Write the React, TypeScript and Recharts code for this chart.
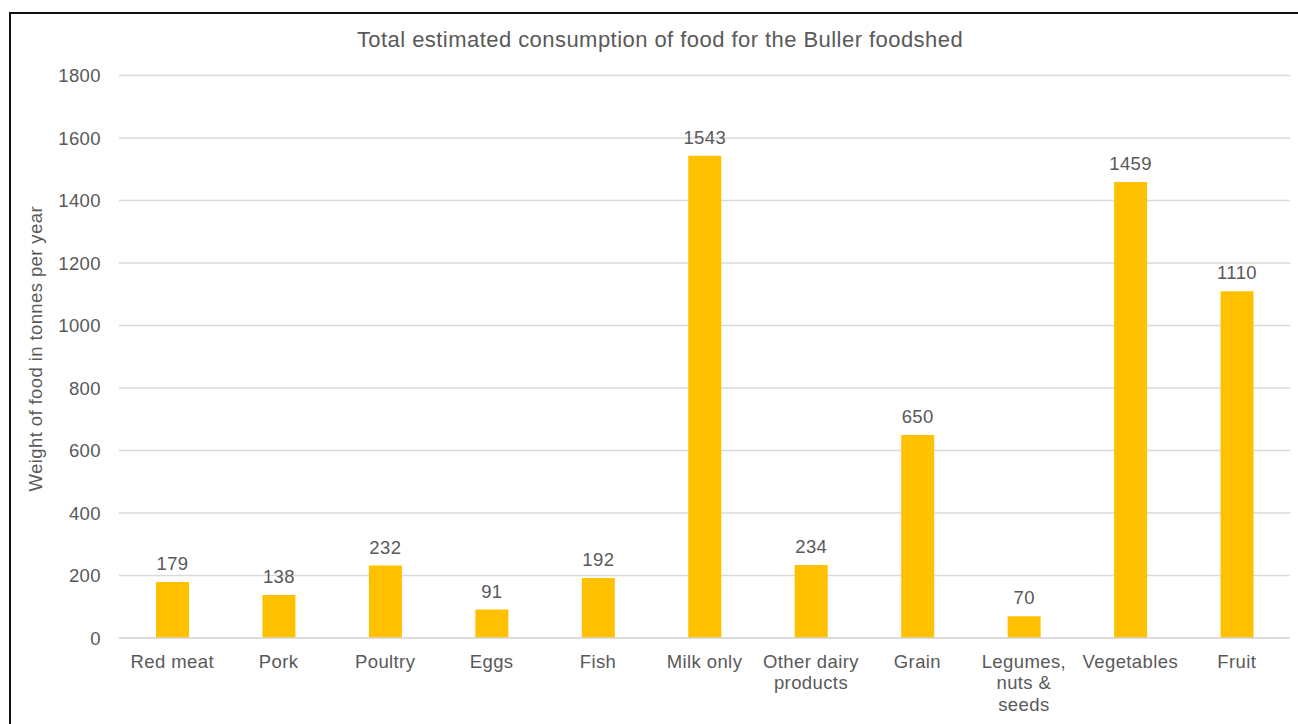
import React from 'react';
import { BarChart, Bar, XAxis, YAxis, CartesianGrid, LabelList } from 'recharts';

// Food groups (multi-line names use "\n")
const categories = [
  'Red meat',
  'Pork',
  'Poultry',
  'Eggs',
  'Fish',
  'Milk only',
  'Other dairy\nproducts',
  'Grain',
  'Legumes,\nnuts &\nseeds',
  'Vegetables',
  'Fruit',
];

// Weight of food in tonnes per year
const tonnes = [179, 138, 232, 91, 192, 1543, 234, 650, 70, 1459, 1110];

const yTicks = [0, 200, 400, 600, 800, 1000, 1200, 1400, 1600, 1800];

const data = categories.map((name, i) => ({ name, value: tonnes[i] }));

const FONT = '"Liberation Sans", Arial, sans-serif';
const TEXT = '#595959';
const FS = 18.5;
const LS = 0.4;

const CategoryTick = (props: any) => {
  const { x, y, payload } = props;
  const lines = String(payload.value).split('\n');
  return (
    <g transform={`translate(${x},${y})`}>
      <text textAnchor="middle" fill={TEXT} fontSize={FS} fontFamily={FONT} letterSpacing={LS}>
        {lines.map((ln: string, i: number) => (
          <tspan key={i} x={0} y={21.7 + i * 21.7}>
            {ln}
          </tspan>
        ))}
      </text>
    </g>
  );
};

const YTitle = (props: any) => {
  const vb = props.viewBox || { x: 0, y: 0, width: 0, height: 0 };
  const cx = vb.x + 42;
  const cy = vb.y + vb.height / 2 - 8;
  return (
    <text
      x={cx}
      y={cy}
      transform={`rotate(-90, ${cx}, ${cy})`}
      textAnchor="middle"
      fill={TEXT}
      fontSize={FS}
      fontFamily={FONT}
      letterSpacing={LS}
    >
      Weight of food in tonnes per year
    </text>
  );
};

export default function App() {
  return (
    <div
      style={{
        position: 'absolute',
        left: 0,
        top: 0,
        width: 1298,
        height: 724,
        overflow: 'hidden',
        background: '#fff',
        fontFamily: FONT,
      }}
    >
      <div
        style={{
          position: 'absolute',
          left: 9,
          top: 12,
          width: 1400,
          height: 800,
          border: '2px solid #111',
          boxSizing: 'border-box',
        }}
      />
      <div
        style={{
          position: 'absolute',
          left: 160,
          width: 1000,
          top: 27,
          textAlign: 'center',
          fontSize: 22,
          letterSpacing: 0.45,
          color: TEXT,
          lineHeight: '25px',
        }}
      >
        Total estimated consumption of food for the Buller foodshed
      </div>
      <div style={{ position: 'absolute', left: 0, top: 0 }}>
        <BarChart
          width={1298}
          height={724}
          data={data}
          margin={{ top: 75.5, right: 8, bottom: 0, left: 0 }}
          barSize={33}
        >
          <CartesianGrid vertical={false} stroke="#D9D9D9" strokeWidth={1.3} />
          <XAxis
            dataKey="name"
            height={86}
            interval={0}
            axisLine={{ stroke: '#D9D9D9', strokeWidth: 1.3 }}
            tickLine={false}
            tick={<CategoryTick />}
          />
          <YAxis
            width={119}
            domain={[0, 1800]}
            ticks={yTicks}
            interval={0}
            axisLine={false}
            tickLine={false}
            tickSize={0}
            tickMargin={18}
            tick={{ fill: TEXT, fontSize: FS, fontFamily: FONT, letterSpacing: LS }}
            label={<YTitle />}
          />
          <Bar dataKey="value" fill="#FFC000" isAnimationActive={false}>
            <LabelList
              dataKey="value"
              position="top"
              offset={12}
              fill={TEXT}
              fontSize={FS}
              fontFamily={FONT}
              letterSpacing={LS}
            />
          </Bar>
        </BarChart>
      </div>
    </div>
  );
}
